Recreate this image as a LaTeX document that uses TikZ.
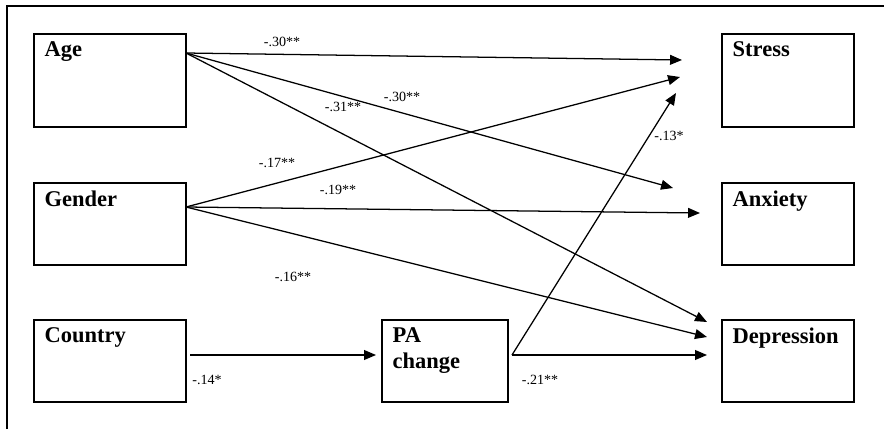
\documentclass[tikz,border=0pt]{standalone}
\usepackage{fontspec}
\setmainfont{Liberation Serif}
\usetikzlibrary{arrows.meta, positioning}

\begin{document}
\begin{tikzpicture}[x=0.025cm, y=-0.025cm,
    var/.style={rectangle, draw=black, line width=0.8pt,
                minimum width=#1, inner sep=0pt},
    tallbox/.style={minimum height=2.325cm},
    shortbox/.style={minimum height=2.05cm},
    varname/.style={anchor=north west, inner sep=0pt, align=left,
                 font=\fontsize{16}{18.5}\selectfont\bfseries},
    coef/.style={font=\fontsize{10}{12}\selectfont, inner sep=0pt},
    arr/.style={-{Triangle[length=8.5pt, width=7pt]}, line width=0.9pt}
]
\useasboundingbox (0,0) rectangle (884,429);
\draw[line width=0.8pt] (7,429) -- (7,6) -- (884,6);

% boxes
\node[var=3.8cm, tallbox] (age) at (110,80.5) {};
\node[var=3.8cm, shortbox] (gender) at (110,224) {};
\node[var=3.8cm, shortbox] (country) at (110,361) {};
\node[var=3.15cm, shortbox] (pa) at (445,361) {};
\node[var=3.3cm, tallbox] (stress) at (788,80.5) {};
\node[var=3.3cm, shortbox] (anxiety) at (788,224) {};
\node[var=3.3cm, shortbox] (depr) at (788,361) {};

\node[varname] (agelbl) at ([shift={(11,8)}]age.north west) {Age};
\node[varname] (genlbl) at ([shift={(11,8)}]gender.north west) {Gender};
\node[varname] (coulbl) at ([shift={(11,8)}]country.north west) {Country};
\node[varname] (palbl) at ([shift={(11,8)}]pa.north west) {PA\\change};
\node[varname] (strlbl) at ([shift={(11,8)}]stress.north west) {Stress};
\node[varname] (anxlbl) at ([shift={(11,8)}]anxiety.north west) {Anxiety};
\node[varname] (deplbl) at ([shift={(11,8)}]depr.north west) {Depression};

% start and end points of the paths
\coordinate (ageout) at (186,53);
\coordinate (genout) at (186,207);
\coordinate (couout) at (190,355);
\coordinate (paout) at (512,355);
\coordinate (pain) at (376,355);
\coordinate (s1) at (682,60);
\coordinate (s2) at (680,77);
\coordinate (s3) at (676,93);
\coordinate (a1) at (673,188);
\coordinate (a2) at (700,213);
\coordinate (d1) at (707,322);
\coordinate (d2) at (707,337);
\coordinate (d3) at (707,355);

\draw[arr] (ageout) -- (s1);
\draw[arr] (ageout) -- (a1);
\draw[arr] (ageout) -- (d1);
\draw[arr] (genout) -- (s2);
\draw[arr] (genout) -- (a2);
\draw[arr] (genout) -- (d2);
\draw[arr] (couout) -- (pain);
\draw[arr] (paout) -- (s3);
\draw[arr] (paout) -- (d3);

% path coefficients
\node[coef] (c1) at (282,42) {-.30**};
\node[coef] (c2) at (402,97) {-.30**};
\node[coef] (c3) at (343,107) {-.31**};
\node[coef] (c4) at (277,163) {-.17**};
\node[coef] (c5) at (338,190) {-.19**};
\node[coef] (c6) at (293,277) {-.16**};
\node[coef] (c7) at (207,380) {-.14*};
\node[coef] (c8) at (540,380) {-.21**};
\node[coef] (c9) at (669,136) {-.13*};
\end{tikzpicture}
\end{document}
